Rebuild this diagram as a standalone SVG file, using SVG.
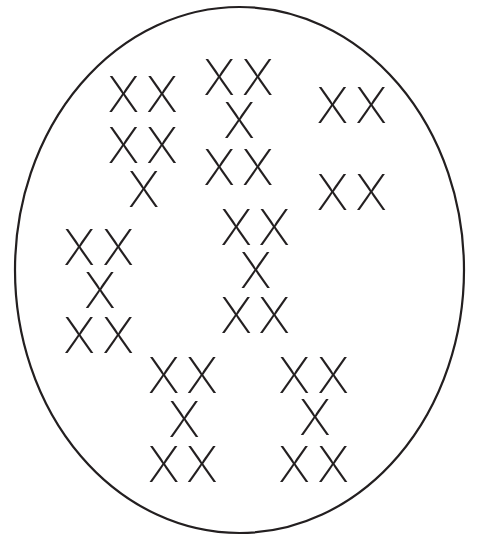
<svg xmlns="http://www.w3.org/2000/svg" width="485" height="538" viewBox="0 0 485 538">
<style>
.x{font-family:"Inter","Roboto","Lato","Liberation Sans",sans-serif;font-weight:250;font-size:49px;text-anchor:middle;fill:#231f20}
</style>
<rect width="485" height="538" fill="#fff"/>
<ellipse id="cell" cx="239.5" cy="270" rx="224.5" ry="263" fill="none" stroke="#231f20" stroke-width="2.2"/>
<g id="groupA">
<text class="x" x="123.5 162" y="111.7">XX</text>
<text class="x" x="123.5 162" y="163.3">XX</text>
<text class="x" x="143.8" y="206.7">X</text>
</g>
<g id="groupB">
<text class="x" x="219.2 257.7" y="95">XX</text>
<text class="x" x="239.2" y="138.3">X</text>
<text class="x" x="219.2 257.7" y="185">XX</text>
</g>
<g id="groupC">
<text class="x" x="332.5 371.3" y="123.3">XX</text>
<text class="x" x="332.5 371.3" y="210">XX</text>
</g>
<g id="groupD">
<text class="x" x="236.2 274.3" y="245">XX</text>
<text class="x" x="255.8" y="288.3">X</text>
<text class="x" x="236.2 274.3" y="333.3">XX</text>
</g>
<g id="groupE">
<text class="x" x="79.2 118.3" y="265">XX</text>
<text class="x" x="100" y="308.3">X</text>
<text class="x" x="79.2 118.3" y="353.3">XX</text>
</g>
<g id="groupF">
<text class="x" x="163.8 202" y="393.3">XX</text>
<text class="x" x="184.3" y="436.7">X</text>
<text class="x" x="163.8 202" y="481.7">XX</text>
</g>
<g id="groupG">
<text class="x" x="294.2 333.3" y="392.7">XX</text>
<text class="x" x="315" y="435">X</text>
<text class="x" x="294.2 333.3" y="481.7">XX</text>
</g>
</svg>
